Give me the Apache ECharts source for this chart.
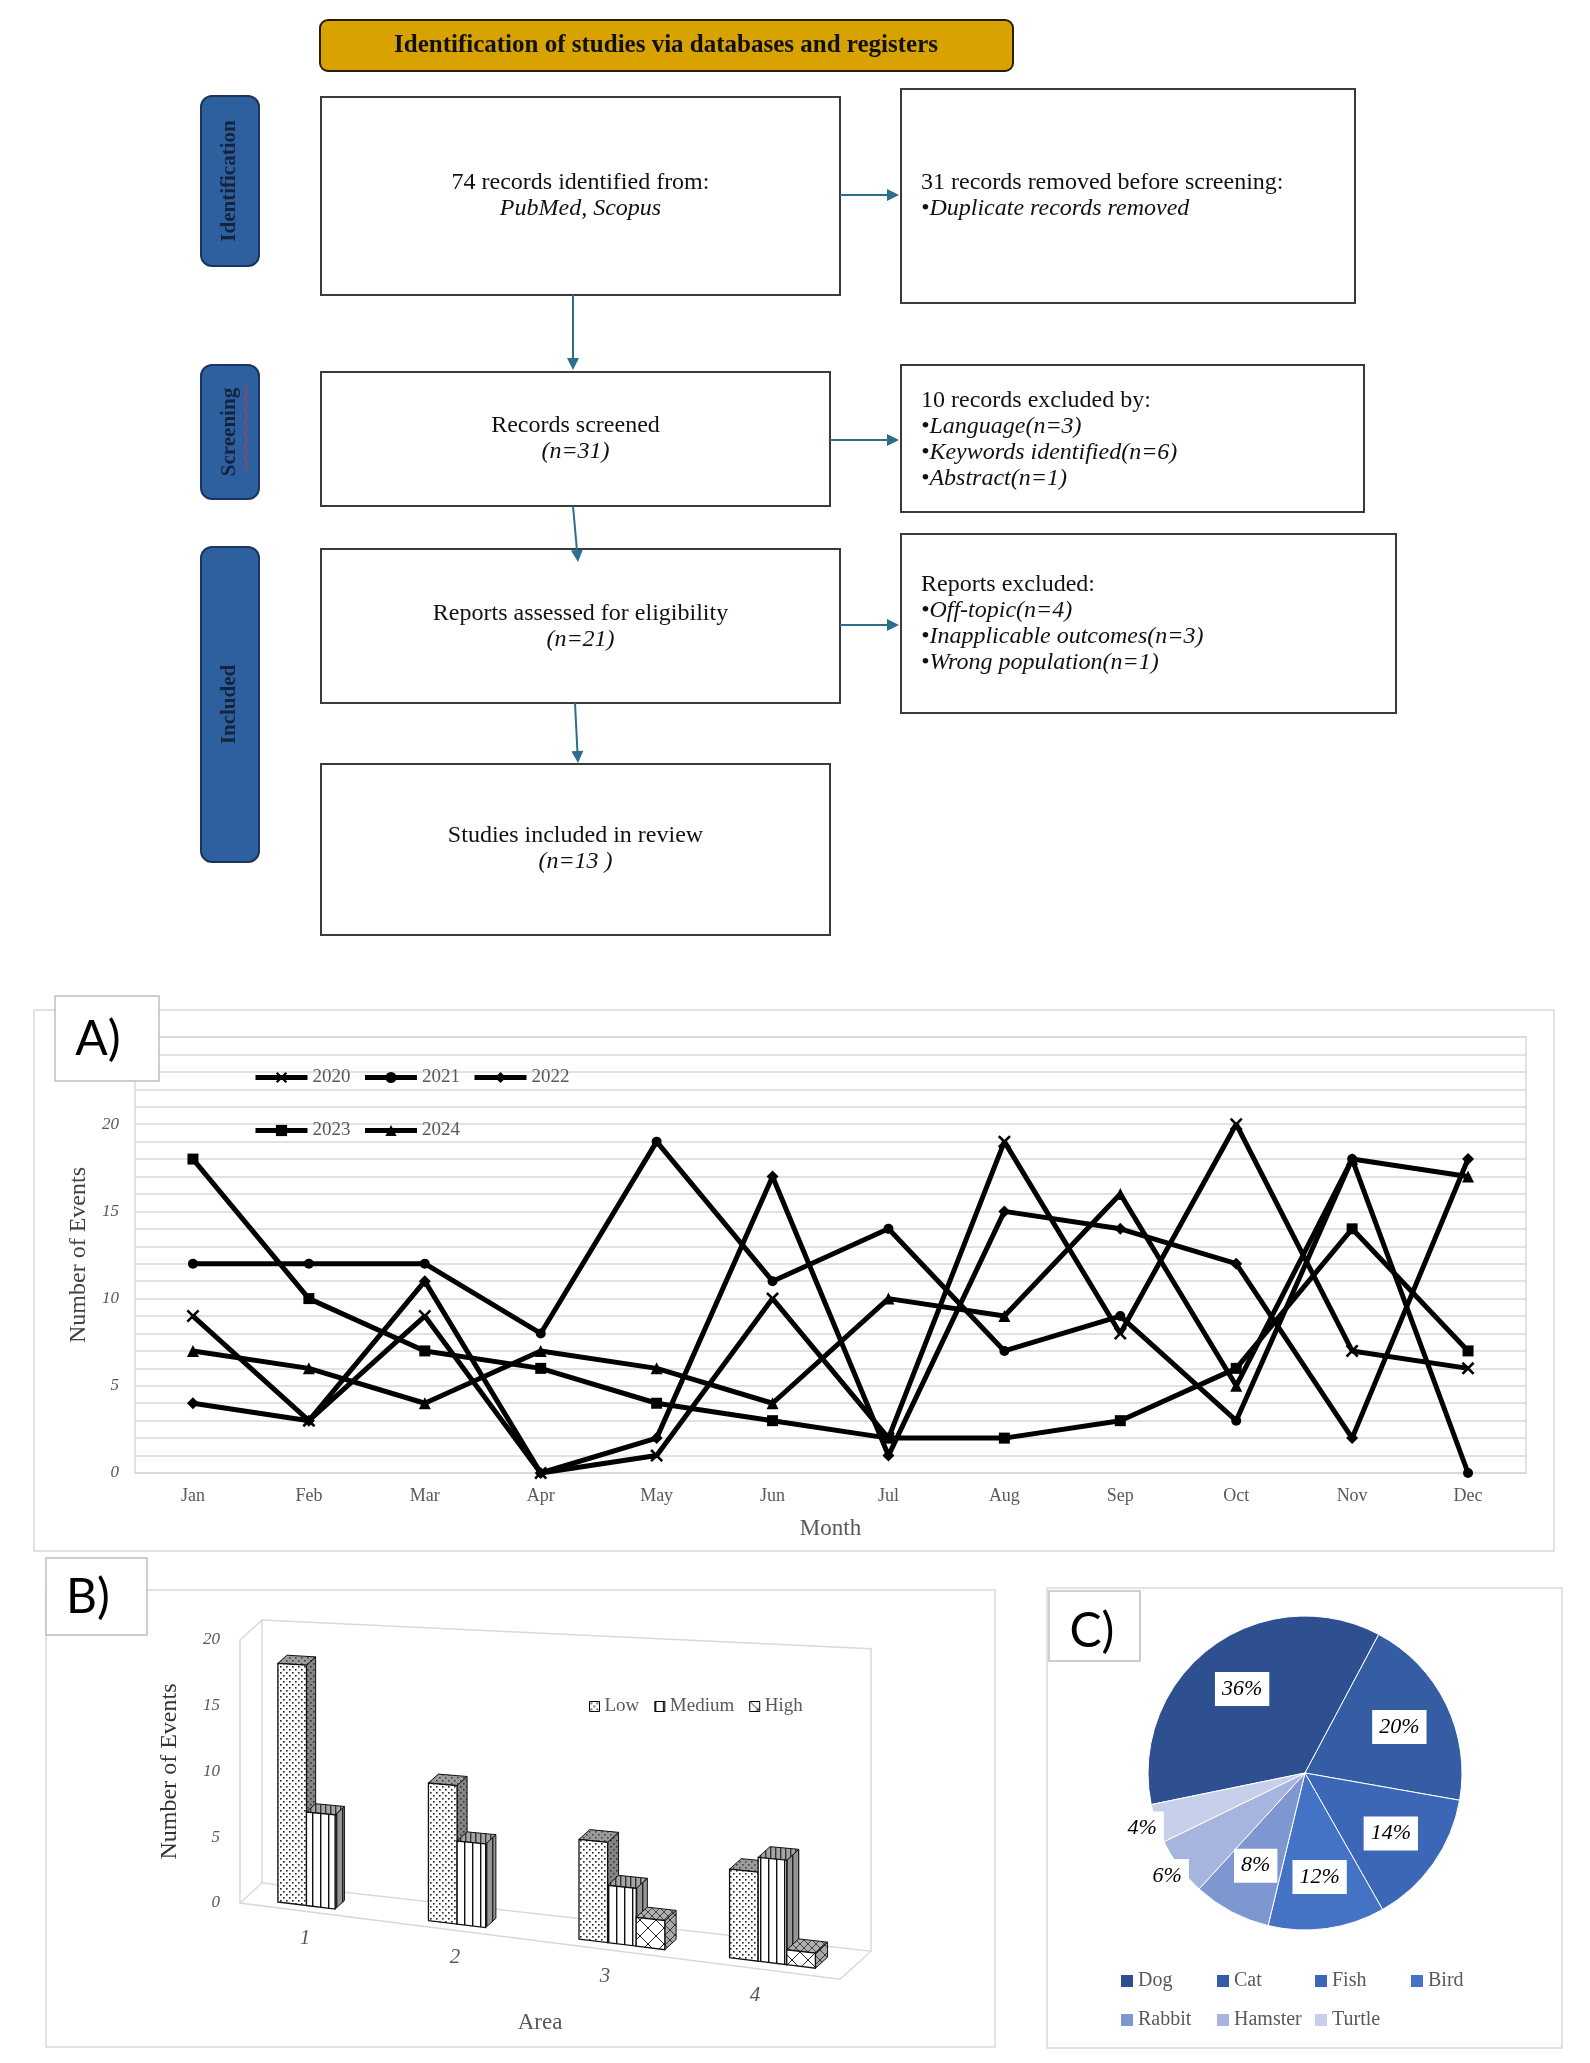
<!DOCTYPE html>
<html><head><meta charset="utf-8">
<script src="https://cdn.jsdelivr.net/npm/echarts@6/dist/echarts.min.js"></script>
<style>html,body{margin:0;padding:0;background:#fff}#c{width:1590px;height:2063px}</style>
</head><body><div id="c"></div>
<script>
// ---------------- DATA ----------------
const flowHeader = 'Identification of studies via databases and registers';
const stageLabels = ['Identification', 'Screening', 'Included'];
const flowMain = [
  ['74 records identified from:', 'PubMed, Scopus'],
  ['Records screened', '(n=31)'],
  ['Reports assessed for eligibility', '(n=21)'],
  ['Studies included in review', '(n=13 )']
];
const flowSide = [
  ['31 records removed before screening:', '•Duplicate records removed'],
  ['10 records excluded by:', '•Language(n=3)', '•Keywords identified(n=6)', '•Abstract(n=1)'],
  ['Reports excluded:', '•Off-topic(n=4)', '•Inapplicable outcomes(n=3)', '•Wrong population(n=1)']
];
const panelLabels = ['A)', 'B)', 'C)'];

const months = ['Jan','Feb','Mar','Apr','May','Jun','Jul','Aug','Sep','Oct','Nov','Dec'];
const years = ['2020','2021','2022','2023','2024'];
const events2020 = [9, 3, 9, 0, 1, 10, 2, 19, 8, 20, 7, 6];
const events2021 = [12, 12, 12, 8, 19, 11, 14, 7, 9, 3, 18, 0];
const events2022 = [4, 3, 11, 0, 2, 17, 1, 15, 14, 12, 2, 18];
const events2023 = [18, 10, 7, 6, 4, 3, 2, 2, 3, 6, 14, 7];
const events2024 = [7, 6, 4, 7, 6, 4, 10, 9, 16, 5, 18, 17];
const yTicksA = [0, 5, 10, 15, 20];
const yMaxA = 25;

const areas = ['1', '2', '3', '4'];
const levels = ['Low', 'Medium', 'High'];
const lowEvents = [18, 10, 7, 6];
const mediumEvents = [7, 6, 4, 7];
const highEvents = [0, 0, 2, 1];
const yTicksB = [0, 5, 10, 15, 20];

const pets = ['Dog', 'Cat', 'Fish', 'Bird', 'Rabbit', 'Hamster', 'Turtle'];
const petShares = [36, 20, 14, 12, 8, 6, 4];

// ---------------- STYLE / LAYOUT ----------------
const SERIF = '"Liberation Serif","Times New Roman",serif';
const FSER = '"Liberation Serif"';
const ARROW = '#2C6E8C';
const GRID_GRAY = '#D9D9D9';
const PIE_COLORS = ['#2F5090', '#355DA3', '#3B67B6', '#4472C4', '#7F97D0', '#A6B5DE', '#C7D0EA'];
const X_PATH = 'path://M0,1.4L1.4,0L5,3.6L8.6,0L10,1.4L6.4,5L10,8.6L8.6,10L5,6.4L1.4,10L0,8.6L3.6,5Z';

const G = [];
function addRect(x, y, w, h, fill, stroke, lw, r, z) {
  G.push({type: 'rect', shape: {x, y, width: w, height: h, r: r || 0},
    style: {fill: fill, stroke: stroke, lineWidth: lw || 1}, z: z || 1, silent: true});
}
function addText(x, y, text, font, opt) {
  opt = opt || {};
  G.push({type: 'text', x, y, rotation: opt.rot || 0, z: opt.z || 6, silent: true,
    style: {text, font, fill: opt.fill || '#111', textAlign: opt.align || 'center',
      textVerticalAlign: 'middle', align: opt.align || 'center', verticalAlign: 'middle'}});
}
function addArrow(x1, y1, x2, y2) {
  const dx = x2 - x1, dy = y2 - y1, len = Math.hypot(dx, dy), ux = dx / len, uy = dy / len;
  const hl = 12, hw = 6, bx = x2 - ux * hl, by = y2 - uy * hl;
  G.push({type: 'line', shape: {x1, y1, x2: bx, y2: by}, style: {stroke: ARROW, lineWidth: 2}, z: 5, silent: true});
  G.push({type: 'polygon', shape: {points: [[x2, y2], [bx - uy * hw, by + ux * hw], [bx + uy * hw, by - ux * hw]]},
    style: {fill: ARROW}, z: 5, silent: true});
}

// Flow diagram
addRect(320, 20, 693, 51, '#D8A300', '#2A1A0A', 2, 8, 2);
addText(666, 46, flowHeader, 'bold 25px ' + FSER, {fill: '#111'});
const L_STAGE = [[201, 96, 58, 170], [201, 365, 58, 134], [201, 547, 58, 315]];
L_STAGE.forEach((r, i) => {
  addRect(r[0], r[1], r[2], r[3], '#2E5F9E', '#1C355A', 2, 11, 2);
  addText(r[0] + 29, r[1] + r[3] / 2, stageLabels[i], 'bold 21px ' + FSER, {rot: Math.PI / 2, fill: '#15243C'});
});
G.push({type: 'polyline', shape: {points: [[245, 386], [247, 392], [245, 398], [247, 404], [245, 410], [247, 416], [245, 422], [247, 428], [245, 434], [247, 440], [245, 446], [247, 452], [245, 458], [247, 464], [245, 470]]},
  style: {stroke: '#E03030', lineWidth: 1, fill: null}, z: 7, silent: true});
const L_MAIN = [[321, 97, 519, 198], [321, 372, 509, 134], [321, 549, 519, 154], [321, 764, 509, 171]];
const L_MAIN_TY = [183, 426, 614, 836];
const LINE_H = 26;
L_MAIN.forEach((r, i) => {
  addRect(r[0], r[1], r[2], r[3], '#fff', '#3A3A3A', 2, 0, 2);
  flowMain[i].forEach((t, j) => addText(r[0] + r[2] / 2, L_MAIN_TY[i] + j * LINE_H, t,
    (j > 0 ? 'italic ' : '') + '24px ' + FSER));
});
const L_SIDE = [[901, 89, 454, 214], [901, 365, 463, 147], [901, 534, 495, 179]];
const L_SIDE_TY = [183, 401, 585];
L_SIDE.forEach((r, i) => {
  addRect(r[0], r[1], r[2], r[3], '#fff', '#3A3A3A', 2, 0, 2);
  flowSide[i].forEach((t, j) => addText(921, L_SIDE_TY[i] + j * LINE_H, t,
    (j > 0 ? 'italic ' : '') + '24px ' + FSER, {align: 'left'}));
});
addArrow(840, 195, 899, 195);
addArrow(830, 440, 899, 440);
addArrow(840, 625, 899, 625);
addArrow(573, 295, 573, 370);
addArrow(573, 506, 578, 562);
addArrow(575, 703, 578, 763);

// Panel frames and labels
addRect(34, 1010, 1520, 541, '#fff', GRID_GRAY, 1.5, 0, -1);
addRect(46, 1590, 949, 457, '#fff', GRID_GRAY, 1.5, 0, -1);
addRect(1047, 1588, 515, 460, '#fff', GRID_GRAY, 1.5, 0, -1);
const L_PLAB = [[55, 996, 104, 85], [46, 1558, 101, 77], [1049, 1591, 91, 70]];
const L_PLAB_T = [[98, 1040], [88, 1598], [1092, 1632]];
L_PLAB.forEach((r, i) => {
  addRect(r[0], r[1], r[2], r[3], '#fff', '#BFBFBF', 1.5, 0, 100);
  addText(L_PLAB_T[i][0], L_PLAB_T[i][1], panelLabels[i], '48px Lato', {z: 101, fill: '#000'});
});

// ---------- patterns for pseudo-3D bars ----------
function makePattern(w, h, bg, drawFn) {
  const c = document.createElement('canvas'); c.width = w; c.height = h;
  const g = c.getContext('2d'); g.fillStyle = bg; g.fillRect(0, 0, w, h); drawFn(g, w, h);
  return {image: c, repeat: 'repeat'};
}
const dots = (col) => (g) => { g.fillStyle = col; g.fillRect(1, 1, 1.6, 1.6); g.fillRect(4, 4, 1.6, 1.6); };
const vlines = (col) => (g, w, h) => { g.fillStyle = col; g.fillRect(0, 0, 1.4, h); };
const cross = (col) => (g, w, h) => { g.strokeStyle = col; g.lineWidth = 1; g.beginPath();
  g.moveTo(0, 0); g.lineTo(w, h); g.moveTo(w, 0); g.lineTo(0, h); g.stroke(); };
const FRONT = [makePattern(6, 6, '#fff', dots('#222')), makePattern(8, 8, '#fff', vlines('#111')), makePattern(16, 16, '#fff', cross('#222'))];
const SIDE = [makePattern(6, 6, '#858585', dots('#333')), makePattern(6, 6, '#959595', vlines('#222')), makePattern(10, 10, '#a8a8a8', cross('#333'))];
const TOP = [makePattern(6, 6, '#9c9c9c', dots('#444')), makePattern(5, 5, '#a5a5a5', vlines('#333')), makePattern(8, 8, '#b0b0b0', cross('#444'))];

const B3 = {slope: 0.127, grow: 0.15, dx0: 22, dx1: 9, dy0: -20, dy1: -8, d0: 0.25, d1: 0.65, barFrac: 0.19};
function projB(cs, y0, x, y, d) {
  const t = (x - cs.x) / cs.width;
  const baseY = y0 + B3.slope * (x - cs.x);
  const s = 1 + B3.grow * t;
  return [x + d * (B3.dx0 + B3.dx1 * t), baseY - (y0 - y) * s + d * (B3.dy0 + B3.dy1 * t)];
}
function barRender(li) {
  return function (params, api) {
    const cat = api.value(0), val = api.value(1);
    const cs = params.coordSys;
    const band = api.size([1, 0])[0];
    const bw = band * B3.barFrac;
    const p0 = api.coord([cat, 0]);
    const p1 = api.coord([cat, val]);
    const y0 = p0[1];
    const children = [];
    if (val > 0) {
      const xl = p0[0] + (li - 1.5) * bw, xr = xl + bw;
      const P = (x, y, d) => projB(cs, y0, x, y, d);
      const front = [P(xl, y0, B3.d0), P(xr, y0, B3.d0), P(xr, p1[1], B3.d0), P(xl, p1[1], B3.d0)];
      const side = [P(xr, y0, B3.d0), P(xr, y0, B3.d1), P(xr, p1[1], B3.d1), P(xr, p1[1], B3.d0)];
      const top = [P(xl, p1[1], B3.d0), P(xr, p1[1], B3.d0), P(xr, p1[1], B3.d1), P(xl, p1[1], B3.d1)];
      children.push({type: 'polygon', shape: {points: side}, style: {fill: SIDE[li], stroke: '#111', lineWidth: 1}});
      children.push({type: 'polygon', shape: {points: top}, style: {fill: TOP[li], stroke: '#111', lineWidth: 1}});
      children.push({type: 'polygon', shape: {points: front}, style: {fill: FRONT[li], stroke: '#111', lineWidth: 1.3}});
    }
    return {type: 'group', children};
  };
}
function frameRender(params, api) {
  const cs = params.coordSys;
  const y0 = api.coord([0, yTicksB[0]])[1];
  const yT = api.coord([0, yTicksB[yTicksB.length - 1]])[1];
  const L = cs.x, R = cs.x + cs.width;
  const P = (x, y, d) => projB(cs, y0, x, y, d);
  const st = {stroke: GRID_GRAY, lineWidth: 1.5, fill: null};
  return {type: 'group', children: [
    {type: 'polyline', shape: {points: [P(L, y0, 1), P(R, y0, 1), P(R, yT, 1), P(L, yT, 1), P(L, y0, 1)]}, style: st},
    {type: 'polyline', shape: {points: [P(L, yT, 1), P(L, yT, 0), P(L, y0, 0), P(R, y0, 0), P(R, y0, 1)]}, style: st},
    {type: 'polyline', shape: {points: [P(L, y0, 0), P(L, y0, 1)]}, style: st}
  ]};
}
function areaLabelRender(params, api) {
  const cs = params.coordSys;
  const i = api.value(0);
  const p = api.coord([i, 0]);
  const q = projB(cs, p[1], p[0] - 10, p[1], 0);
  return {type: 'text', x: q[0], y: q[1] + 27,
    style: {text: areas[i], font: 'italic 21px ' + FSER, fill: '#595959',
      textAlign: 'center', textVerticalAlign: 'middle', align: 'center', verticalAlign: 'middle'}};
}

// ---------------- OPTION ----------------
const yearSeries = [events2020, events2021, events2022, events2023, events2024];
const yearSymbols = [X_PATH, 'circle', 'diamond', 'rect', 'triangle'];
const yearSymSize = [13, 10, 12, 11, 12];
const levelValues = [lowEvents, mediumEvents, highEvents];

const legendTextA = {fontFamily: SERIF, fontSize: 19, color: '#595959'};
const pieLabel = {position: 'inside', formatter: '{c}%', fontFamily: SERIF, fontStyle: 'italic',
  fontSize: 22, color: '#000', backgroundColor: '#fff', padding: [6, 7]};
const PIE_LEG_X = [1116, 1212, 1310, 1406];
const pieLegends = PIE_LEG_X.map((x, c) => ({
  data: pets.filter((p, i) => i % 4 === c), left: x, top: 1965, orient: 'vertical',
  icon: 'rect', itemWidth: 12, itemHeight: 12, itemGap: 17,
  itemStyle: {borderWidth: 0}, textStyle: {fontFamily: SERIF, fontSize: 20, color: '#595959', lineHeight: 22},
  selectedMode: false
}));

const option = {
  animation: false,
  backgroundColor: '#fff',
  textStyle: {fontFamily: SERIF},
  graphic: {elements: G},
  grid: [
    {left: 135, top: 1037, width: 1391, height: 436, show: true, borderColor: GRID_GRAY, borderWidth: 1.5, backgroundColor: 'rgba(0,0,0,0)'},
    {left: 240, top: 1640, width: 600, height: 263, show: false}
  ],
  xAxis: [
    {gridIndex: 0, type: 'category', data: months, boundaryGap: true,
      axisLine: {lineStyle: {color: GRID_GRAY, width: 1.5}}, axisTick: {show: false},
      axisLabel: {color: '#595959', fontFamily: SERIF, fontSize: 18, margin: 14},
      name: 'Month', nameLocation: 'middle', nameGap: 44,
      nameTextStyle: {color: '#595959', fontFamily: SERIF, fontSize: 23}},
    {gridIndex: 1, type: 'category', data: areas, boundaryGap: true,
      axisLine: {show: false}, axisTick: {show: false}, axisLabel: {show: false},
      name: 'Area', nameLocation: 'middle', nameGap: 108,
      nameTextStyle: {color: '#595959', fontFamily: SERIF, fontSize: 23}}
  ],
  yAxis: [
    {gridIndex: 0, type: 'value', min: yTicksA[0], max: yMaxA, interval: 1,
      axisLine: {show: false}, axisTick: {show: false},
      axisLabel: {formatter: v => (yTicksA.indexOf(v) >= 0 ? String(v) : ''), color: '#595959',
        fontFamily: SERIF, fontStyle: 'italic', fontSize: 17, margin: 16},
      splitLine: {lineStyle: {color: GRID_GRAY, width: 1.5}},
      name: 'Number of Events', nameLocation: 'middle', nameGap: 44,
      nameTextStyle: {color: '#404040', fontFamily: SERIF, fontSize: 24}},
    {gridIndex: 1, type: 'value', min: yTicksB[0], max: yTicksB[yTicksB.length - 1], interval: yTicksB[1] - yTicksB[0],
      axisLine: {show: false}, axisTick: {show: false}, splitLine: {show: false},
      axisLabel: {color: '#595959', fontFamily: SERIF, fontStyle: 'italic', fontSize: 17, margin: 20},
      name: 'Number of Events', nameLocation: 'middle', nameGap: 58,
      nameTextStyle: {color: '#333', fontFamily: SERIF, fontSize: 24}}
  ],
  legend: [
    {data: years.slice(0, 3), left: 248, top: 1063, itemWidth: 52, itemHeight: 14, itemGap: 12,
      lineStyle: {width: 5, color: '#000'}, textStyle: legendTextA, selectedMode: false},
    {data: years.slice(3), left: 248, top: 1116, itemWidth: 52, itemHeight: 14, itemGap: 12,
      lineStyle: {width: 5, color: '#000'}, textStyle: legendTextA, selectedMode: false},
    {data: levels, left: 584, top: 1692, icon: 'rect', itemWidth: 10, itemHeight: 10, itemGap: 15,
      itemStyle: {borderColor: '#000', borderWidth: 1}, textStyle: legendTextA, selectedMode: false}
  ].concat(pieLegends),
  series: [].concat(
    years.map((y, i) => ({
      name: y, type: 'line', xAxisIndex: 0, yAxisIndex: 0, data: yearSeries[i],
      symbol: yearSymbols[i], symbolSize: yearSymSize[i], showSymbol: true,
      lineStyle: {color: '#000', width: 5}, itemStyle: {color: '#000'}, z: 3, silent: true
    })),
    [{type: 'custom', name: '_frameB', xAxisIndex: 1, yAxisIndex: 1, z: 1, silent: true, data: [[0, 0]], renderItem: frameRender}],
    levels.map((lv, li) => ({
      name: lv, type: 'custom', xAxisIndex: 1, yAxisIndex: 1, z: 3, silent: true,
      data: levelValues[li].map((v, i) => [i, v]),
      itemStyle: {color: FRONT[li], borderColor: '#000'},
      renderItem: barRender(li)
    })),
    [{type: 'custom', name: '_areaLabels', xAxisIndex: 1, yAxisIndex: 1, z: 4, silent: true,
      data: areas.map((a, i) => [i, 0]), renderItem: areaLabelRender}],
    [{type: 'pie', name: 'pets', center: [1305, 1773], radius: 157, startAngle: 191.6, clockwise: true,
      data: pets.map((n, i) => ({name: n, value: petShares[i], itemStyle: {color: PIE_COLORS[i]}})),
      label: {show: false}, labelLine: {show: false}, itemStyle: {borderColor: '#fff', borderWidth: 1},
      silent: true, z: 2},
     {type: 'pie', name: 'petLabels1', center: [1305, 1773], radius: 204, startAngle: 191.6, clockwise: true,
      data: pets.map((n, i) => ({name: n + '_l1', value: petShares[i], label: {show: i < 5}})),
      itemStyle: {color: 'rgba(0,0,0,0)'}, label: pieLabel, labelLine: {show: false}, silent: true, z: 4},
     {type: 'pie', name: 'petLabels2', center: [1305, 1773], radius: 338, startAngle: 191.6, clockwise: true,
      data: pets.map((n, i) => ({name: n + '_l2', value: petShares[i], label: {show: i >= 5}})),
      itemStyle: {color: 'rgba(0,0,0,0)'}, label: pieLabel, labelLine: {show: false}, silent: true, z: 4}]
  )
};

const chart = echarts.init(document.getElementById('c'), null, {renderer: 'canvas', width: 1590, height: 2063});
chart.setOption(option);
</script>
</body></html>
